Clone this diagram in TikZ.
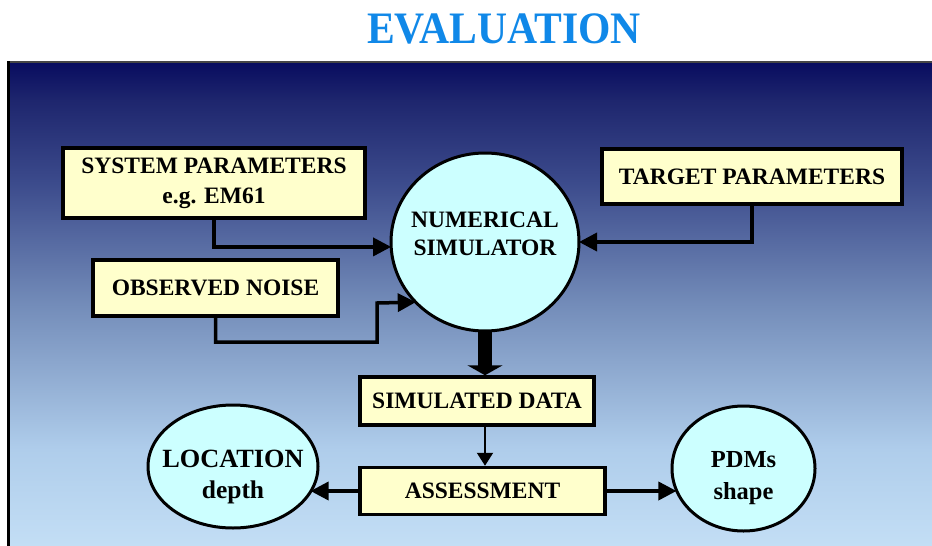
\documentclass[tikz,border=0pt]{standalone}
\usepackage{fontspec}
\setmainfont{Liberation Serif}
\usepackage{graphicx}
\usetikzlibrary{arrows.meta,shapes.geometric}

\definecolor{titleblue}{RGB}{16,136,232}
\definecolor{boxfill}{RGB}{255,255,204}
\definecolor{discfill}{RGB}{204,255,255}
\definecolor{framegray}{RGB}{70,70,70}

% navy at the top fading to pale blue at the bottom
% (TikZ fits the path to the 25bp--75bp band of the shading)
\pgfdeclareverticalshading{panelshade}{100bp}{%
  rgb(0bp)=(0.765,0.871,0.961);
  rgb(25bp)=(0.765,0.871,0.961);
  rgb(35bp)=(0.686,0.804,0.922);
  rgb(50bp)=(0.451,0.549,0.725);
  rgb(62.5bp)=(0.235,0.294,0.549);
  rgb(71bp)=(0.118,0.149,0.431);
  rgb(75bp)=(0.031,0.047,0.373);
  rgb(100bp)=(0.031,0.047,0.373)}

% text centred in a disc without widening it; #1 raises the block
\newcommand\disctext[2]{\makebox[0pt]{\smash{\raisebox{#1}{\begin{tabular}{@{}c@{}}#2\end{tabular}}}}}

\begin{document}
\begin{tikzpicture}[x=1pt,y=-1pt,
  infobox/.style={draw, line width=3.5pt, fill=boxfill, rectangle, inner sep=0pt,
    align=center, font=\fontsize{23.5}{30}\selectfont\bfseries},
  disc/.style={draw, line width=3pt, fill=discfill, ellipse, inner sep=0pt, outer sep=0pt},
  conn/.style={line width=3.5pt, -{Triangle[length=18pt,width=18pt]}},
  thinconn/.style={line width=2pt, -{Triangle[length=13pt,width=16pt]}},
  bigconn/.style={line width=14pt, -{Triangle[length=10pt,width=35pt]}},
]
\useasboundingbox (0,0) rectangle (932,546);

% panel
\shade[shading=panelshade] (8,62) rectangle (932,546);
\draw[line width=2pt, framegray] (8,62) -- (932,62);
\draw[line width=3pt, black] (8,61) -- (8,546);

% title
\node[font=\fontsize{45}{45}\selectfont\bfseries, text=titleblue, inner sep=0pt]
  (title) at (504,28.5) {\scalebox{0.925}[1]{EVALUATION}};

% boxes
\node[infobox, minimum width=302pt, minimum height=70pt] (sys) at (214,183)
  {SYSTEM PARAMETERS\\e.g. EM61};
\node[infobox, minimum width=245pt, minimum height=56pt] (noise) at (215.5,288)
  {OBSERVED NOISE};
\node[infobox, minimum width=300pt, minimum height=55pt] (target) at (752,176.5)
  {TARGET PARAMETERS};
\node[infobox, minimum width=234pt, minimum height=48pt] (simdata) at (477,401)
  {SIMULATED DATA};
\node[infobox, minimum width=245pt, minimum height=47pt] (assess) at (482.5,491)
  {ASSESSMENT};

% discs
\node[disc, minimum width=188pt, minimum height=178pt,
  font=\fontsize{23.5}{28}\selectfont\bfseries] (sim) at (485,242)
  {\disctext{0pt}{NUMERICAL\\SIMULATOR}};
\node[disc, minimum width=170pt, minimum height=123pt,
  font=\fontsize{25.5}{31}\selectfont\bfseries] (loc) at (233,466.5)
  {\disctext{-17pt}{{\fontsize{26.3}{31}\selectfont LOCATION}\\depth}};
\node[disc, minimum width=143pt, minimum height=125pt,
  font=\fontsize{24.5}{32}\selectfont\bfseries] (pdm) at (743.5,468.5)
  {\disctext{-14.6pt}{PDMs\\shape}};

% connectors
\draw[conn] (sys.south) |- (sim.183);
\draw[conn] (noise.south) |- (377,342) -- (377,303) -- (sim.221.7);
\draw[conn] (target.south) |- (sim.east);
\draw[bigconn] (sim.south) -- (sim.south |- simdata.north);
\draw[thinconn] (sim.south |- simdata.south) -- (sim.south |- assess.north);
\draw[conn] (assess.west) -- (loc.342.56 |- assess.west);
\draw[conn] (assess.east) -- (pdm.198.64 |- assess.east);
\end{tikzpicture}
\end{document}
